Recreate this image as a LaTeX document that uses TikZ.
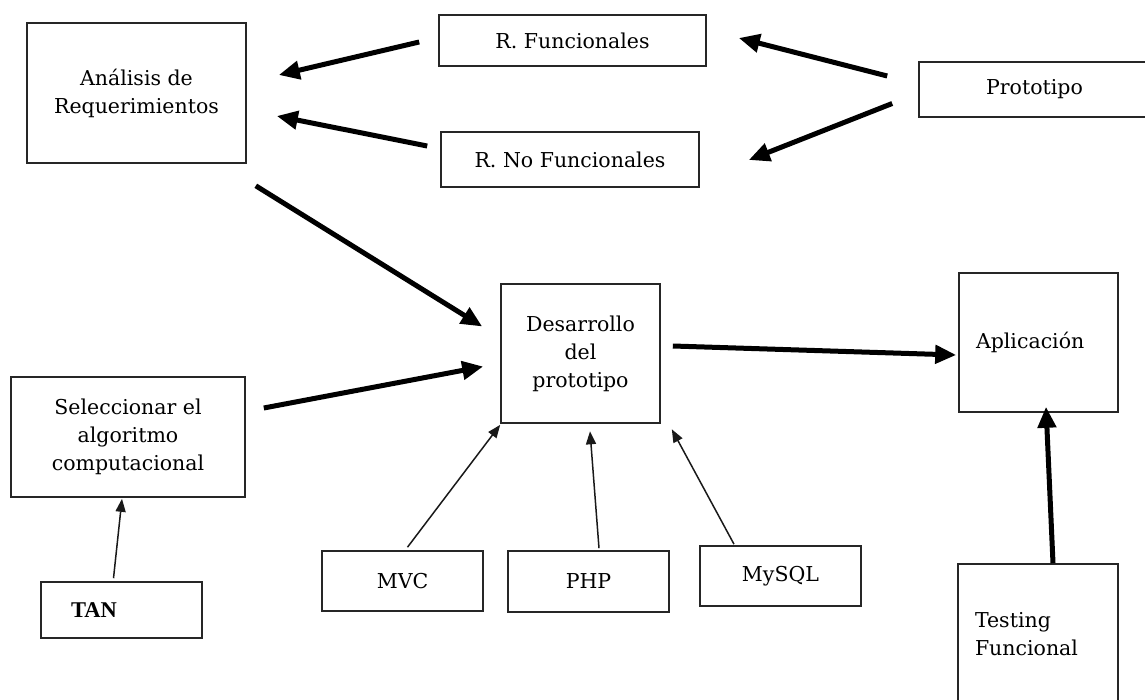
\documentclass[tikz,border=0pt]{standalone}
\usepackage{fontspec}
\setmainfont{DejaVu Serif}
\newfontfamily\boldserif{Liberation Serif}
\usetikzlibrary{arrows.meta,calc}

\tikzset{
  box/.style={draw=black!85, line width=1.6pt, fill=white, inner sep=0pt,
    align=center, text=black, font=\fontsize{20.5}{28}\selectfont},
  bigarrow/.style={draw=black, line width=5pt,
    -{Triangle[length=21pt,width=18pt]}},
  thinarrow/.style={draw=black!90, line width=1.5pt,
    -{Triangle[length=13pt,width=10pt]}}
}

\begin{document}
\begin{tikzpicture}[x=1pt,y=-1pt]
  \useasboundingbox (0,0) rectangle (1145,700);
  \clip (0,0) rectangle (1145,700);

  % requirement stage
  \node[box, minimum width=219pt, minimum height=140pt] (an) at (136.5,93)
    {Análisis de\\Requerimientos};
  \node[box, minimum width=267pt, minimum height=51pt] (rf) at (572.5,40.5)
    {R. Funcionales};
  \node[box, minimum width=258pt, minimum height=55pt] (rnf) at (570,159.5)
    {R. No Funcionales};
  \node[box, minimum width=231pt, minimum height=55pt] (proto) at (1034.5,89.5)
    {Prototipo};

  % development stage
  \node[box, minimum width=159pt, minimum height=139pt] (dev) at (580.5,353.5)
    {Desarrollo\\del\\prototipo};
  \node[box, minimum width=159pt, minimum height=139pt, text width=125pt,
    align=left] (app) at (1038.5,342.5) {Aplicación};
  \node[box, minimum width=234pt, minimum height=120pt] (sel) at (128,437)
    {Seleccionar el\\algoritmo\\computacional};
  \node[box, minimum width=161pt, minimum height=56pt, text width=101pt,
    align=left, font=\boldserif\bfseries\fontsize{22.5}{28}\selectfont]
    (tan) at (121.5,610) {TAN};

  % technologies
  \node[box, minimum width=161pt, minimum height=60pt] (mvc) at (402.5,581) {MVC};
  \node[box, minimum width=161pt, minimum height=61pt] (php) at (588.5,581.5) {PHP};
  \node[box, minimum width=161pt, minimum height=60pt] (mysql) at (780.5,576) {MySQL};

  % testing
  \node[box, minimum width=160pt, minimum height=140pt, text width=126pt,
    align=left] (test) at (1038,634) {Testing\\Funcional};

  % thick connectors
  \draw[bigarrow] ($(rf.west)+(-19,1.5)$) -- ($(an.east)+(32,-18)$);
  \draw[bigarrow] ($(rnf.west)+(-13,-13.5)$) -- ($(an.east)+(30,23)$);
  \draw[bigarrow] ($(proto.west)+(-31,-13.5)$) -- ($(rf.east)+(32,-2.5)$);
  \draw[bigarrow] ($(proto.west)+(-26,14)$) -- ($(rnf.east)+(49,0.5)$);
  \draw[bigarrow] ($(an.south east)+(9,22)$) -- ($(dev.west)+(-18,-27)$);
  \draw[bigarrow] ($(sel.east)+(18,-29)$) -- ($(dev.west)+(-17,13)$);
  \draw[bigarrow] ($(dev.east)+(12,-7.5)$) -- ($(app.west)+(-2,12.5)$);
  \draw[bigarrow] ($(test.north)+(15,0)$) -- ($(app.south)+(7.5,-6)$);

  % thin connectors
  \draw[thinarrow] ($(tan.north)+(-8,-3)$) -- ($(sel.south)+(-6,1)$);
  \draw[thinarrow] ($(mvc.north)+(5,-3)$) -- ($(dev.south west)+(0,1)$);
  \draw[thinarrow] ($(php.north)+(10.5,-2)$) -- ($(dev.south)+(9.5,7.5)$);
  \draw[thinarrow] ($(mysql.north)+(-46.5,-1)$) -- ($(dev.south east)+(11,5.5)$);
\end{tikzpicture}
\end{document}
